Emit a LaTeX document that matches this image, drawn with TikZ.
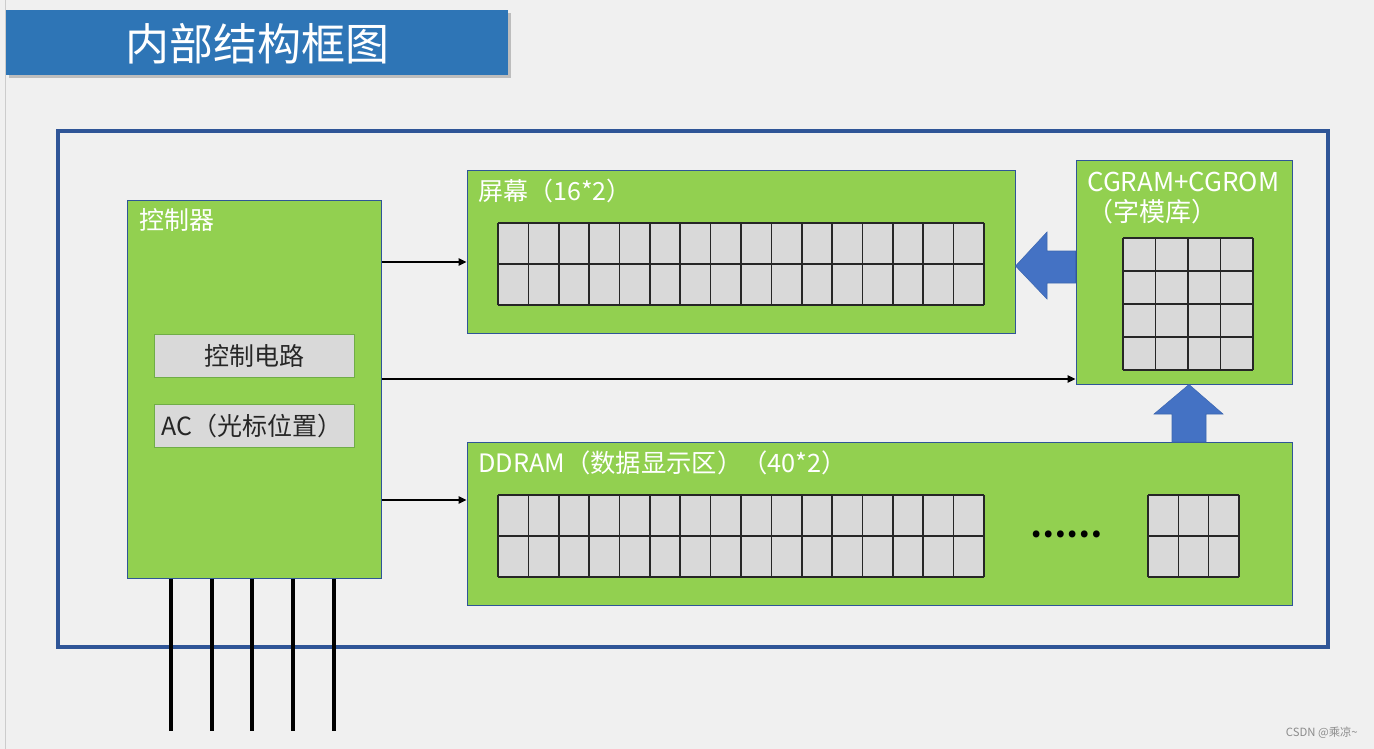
\documentclass[tikz,border=0pt]{standalone}
\usepackage{fontspec}
\setmainfont{Noto Sans CJK SC}
\usetikzlibrary{arrows.meta,fit}
\definecolor{bg}{HTML}{F0F0F0}
\definecolor{titleblue}{HTML}{2E75B6}
\definecolor{frameblue}{HTML}{2F5597}
\definecolor{grn}{HTML}{92D050}
\definecolor{cellgray}{HTML}{D9D9D9}
\definecolor{arrblue}{HTML}{4472C4}
\definecolor{subborder}{HTML}{70AD47}
\definecolor{darktext}{HTML}{262626}
\newcommand\cellgrid[6]{%
  \fill[cellgray] (#1,#2) rectangle (#3,#4);
  \foreach \i in {0,...,#5} \draw[gridline] ({#1+(#3-#1)*\i/#5},#2) -- ({#1+(#3-#1)*\i/#5},#4);
  \foreach \j in {0,...,#6} \draw[gridline] (#1,{#2+(#4-#2)*\j/#6}) -- (#3,{#2+(#4-#2)*\j/#6});
}
\begin{document}
\begin{tikzpicture}[x=0.75pt,y=-0.75pt,
  greenbox/.style={draw=frameblue,line width=0.75pt,fill=grn,inner sep=0pt},
  subbox/.style={draw=subborder,line width=0.75pt,fill=cellgray,inner sep=0pt},
  gridline/.style={draw=black!85,line width=1.2pt},
  whitelabel/.style={text=white,font=\fontsize{18.75pt}{22pt}\selectfont,anchor=west,inner sep=0pt},
  conn/.style={line width=1.8pt,-{Triangle[length=6pt,width=5.5pt]}},
  pinline/.style={line width=2.4pt},
  blockarrow/.style={fill=arrblue,draw=arrblue!90!black,line width=0.4pt}]
\useasboundingbox (0,0) rectangle (1374,749);
\fill[bg] (0,0) rectangle (1374,749);
\draw[black!20,line width=1pt] (5.5,0) -- (5.5,749);
% title
\fill[black!45,opacity=0.5] (9,13) rectangle (511,78);
\node[fill=titleblue,inner sep=0pt,fit={(6,10) (508,75)}] (titlebar) {};
\node[text=white,font=\fontsize{33pt}{38pt}\selectfont,inner sep=0pt] (title) at (257,44) {内部结构框图};
% outer frame
\node[draw=frameblue,line width=2.3pt,inner sep=0pt,fit={(58,131) (1328,647)}] (frame) {};
% controller
\node[greenbox,fit={(127,200) (381,578)}] (ctrl) {};
\node[whitelabel] (ctrllabel) at (139,220) {控制器};
\node[subbox,fit={(154,334) (354,377)}] (ctrlcirc) {};
\node[text=darktext,font=\fontsize{18.75pt}{22pt}\selectfont,inner sep=0pt] (ctrlcirctext) at (254,356) {控制电路};
\node[subbox,fit={(154,404) (354,447)}] (acbox) {};
\node[text=darktext,font=\fontsize{18.75pt}{22pt}\selectfont,inner sep=0pt,anchor=west] (actext) at (161,426) {AC（光标位置）};
% screen
\node[greenbox,fit={(467,170) (1015,333)}] (screen) {};
\node[whitelabel] (screenlabel) at (478,191) {屏幕（16*2）};
\cellgrid{498}{223}{984}{305}{16}{2}
% CGRAM
\node[greenbox,fit={(1076,160) (1292,384)}] (cgram) {};
\node[whitelabel,font=\fontsize{19.5pt}{22pt}\selectfont] (cgramlabel1) at (1087,182) {CGRAM+CGROM};
\node[whitelabel,font=\fontsize{19.5pt}{22pt}\selectfont] (cgramlabel2) at (1087,212) {（字模库）};
\cellgrid{1123}{238}{1253}{370}{4}{4}
% DDRAM
\node[greenbox,fit={(467,442) (1292,605)}] (ddram) {};
\node[whitelabel,font=\fontsize{19pt}{22pt}\selectfont] (ddramlabel) at (478,463) {DDRAM（数据显示区）（40*2）};
\cellgrid{498}{495}{984}{577}{16}{2}
\cellgrid{1148}{495}{1239}{577}{3}{2}
\node[font=\fontsize{24pt}{28pt}\selectfont\bfseries,inner sep=0pt] (dots) at (1066,534) {……};
% block arrows
\draw[blockarrow] (cgram.west |- 0,251) -- (1047,251) -- (1047,232) -- (screen.east |- 0,266) -- (1047,299) -- (1047,283) -- (cgram.west |- 0,283) -- cycle;
\draw[blockarrow] (1172,442) -- (1172,414) -- (1154,414) -- (cgram.south -| 1189,0) -- (1223,414) -- (1206,414) -- (1206,442) -- cycle;
% connectors
\draw[conn] (ctrl.east |- 0,262) -- (screen.west |- 0,262);
\draw[conn] (ctrl.east |- 0,379) -- (cgram.west |- 0,379);
\draw[conn] (ctrl.east |- 0,500) -- (ddram.west |- 0,500);
% pins
\foreach \px/\nm in {171/a,212/b,252/c,293/d,334/e}{
  \coordinate (pin\nm) at (\px,731);
  \draw[pinline] (ctrl.south -| pin\nm) -- (pin\nm);
}
% watermark
\node[text=black!45,font=\fontsize{8.5pt}{10pt}\selectfont,anchor=east,inner sep=0pt] (wm) at (1358,733) {CSDN @乘凉\textasciitilde};
\end{tikzpicture}
\end{document}
